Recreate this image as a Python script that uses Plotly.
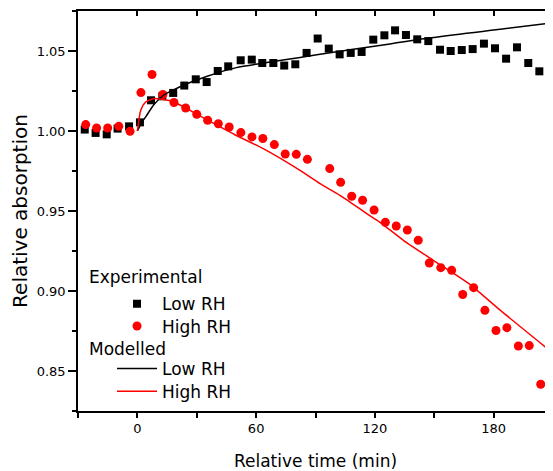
import plotly.graph_objects as go

# Experimental, low RH (black squares)
t_low = [-26.6, -21.1, -15.5, -10.0, -4.2, 1.3, 6.9, 12.6, 18.1, 23.7, 29.5, 35.0, 40.6, 45.9,
         52.2, 57.8, 63.1, 68.7, 74.2, 79.8, 85.5, 91.1, 96.7, 102.2, 107.8, 113.3, 119.2, 124.8,
         130.2, 135.7, 141.4, 147.0, 152.9, 158.3, 163.9, 169.4, 175.1, 180.7, 186.3, 191.8, 197.5, 203.1]
v_low = [1.0009, 0.9988, 0.9979, 1.0015, 1.0029, 1.0054, 1.0192, 1.0217, 1.0238, 1.0284, 1.0323, 1.0306, 1.0375, 1.0404,
         1.0442, 1.0446, 1.0425, 1.0425, 1.0409, 1.0417, 1.0488, 1.0578, 1.0515, 1.0479, 1.0488, 1.0494, 1.0571, 1.0598,
         1.0629, 1.0600, 1.0573, 1.0562, 1.0508, 1.0500, 1.0506, 1.0512, 1.0546, 1.0517, 1.0452, 1.0523, 1.0425, 1.0373]

# Experimental, high RH (red circles)
t_high = [-26.1, -20.6, -15.0, -9.4, -3.7, 1.8, 7.4, 12.9, 18.5, 24.4, 30.0, 35.5, 40.9, 46.4,
          52.3, 57.9, 63.4, 69.2, 74.7, 80.3, 85.9, 97.2, 102.7, 108.3, 113.8, 119.6, 125.3, 130.8,
          136.4, 141.9, 147.5, 153.3, 158.8, 164.4, 169.9, 175.6, 181.2, 186.7, 192.5, 198.0, 203.8, 209.3]
v_high = [1.0040, 1.0019, 1.0019, 1.0029, 0.9998, 1.0240, 1.0353, 1.0228, 1.0178, 1.0144, 1.0104, 1.0067, 1.0045, 1.0025,
          0.9990, 0.9963, 0.9953, 0.9915, 0.9856, 0.9854, 0.9823, 0.9765, 0.9679, 0.9592, 0.9567, 0.9506, 0.9429, 0.9406,
          0.9381, 0.9317, 0.9175, 0.9146, 0.9129, 0.8978, 0.9021, 0.8879, 0.8753, 0.8771, 0.8656, 0.8659, 0.8417, 0.8515]

# Modelled, low RH (black line)
tm_low = [0.0, 2.0, 4.2, 8.4, 13.4, 18.5, 24.4, 35.3, 50.0, 67.0, 82.2, 92.3, 127.6, 141.1, 210.0]
vm_low = [1.0000, 1.0050, 1.0088, 1.0165, 1.0225, 1.0258, 1.0292, 1.0342, 1.0396, 1.0431, 1.0459, 1.0480, 1.0544, 1.0571, 1.0677]

# Modelled, high RH (red line)
tm_high = [0.0, 1.7, 4.2, 8.4, 12.6, 18.5, 33.0, 50.0, 63.6, 82.2, 92.3, 102.4, 115.9, 122.4, 134.4, 149.5, 168.1, 183.3, 210.0]
vm_high = [1.0000, 1.0129, 1.0181, 1.0203, 1.0198, 1.0181, 1.0085, 0.9972, 0.9890, 0.9754, 0.9671, 0.9598, 0.9484, 0.9431,
           0.9317, 0.9192, 0.9040, 0.8880, 0.8611]

x_range = [-30, 210]
y_range = [0.825, 1.075]
x_ticks = [0, 60, 120, 180]
y_ticks = [0.85, 0.90, 0.95, 1.00, 1.05]
y_ticktext = ["0.85", "0.90", "0.95", "1.00", "1.05"]
group_titles = ["Experimental", "Modelled"]

FONT = "DejaVu Sans, Arial, sans-serif"
RED = "#ff0000"

fig = go.Figure()
fig.add_trace(go.Scatter(x=t_low, y=v_low, mode="markers", name="Low RH", legend="legend",
                         marker=dict(symbol="square", size=8, color="black")))
fig.add_trace(go.Scatter(x=t_high, y=v_high, mode="markers", name="High RH", legend="legend2",
                         marker=dict(symbol="circle", size=9, color=RED)))
fig.add_trace(go.Scatter(x=tm_low, y=vm_low, mode="lines", name="Low RH", legend="legend3",
                         line=dict(color="black", width=1.5, shape="spline", smoothing=0.6)))
fig.add_trace(go.Scatter(x=tm_high, y=vm_high, mode="lines", name="High RH", legend="legend4",
                         line=dict(color=RED, width=1.5, shape="spline", smoothing=0.6)))
# carrier trace for mirrored (top/right) axes
fig.add_trace(go.Scatter(x=tm_low, y=vm_low, xaxis="x2", yaxis="y2", mode="lines",
                         line=dict(width=0), opacity=0, showlegend=False, hoverinfo="skip"))

common = dict(showline=True, linecolor="black", linewidth=1.5, showgrid=False, zeroline=False,
              tickcolor="black", tickwidth=1.5)


def leg(y):
    return dict(x=0.0716, y=y, xanchor="left", yanchor="middle", bgcolor="rgba(0,0,0,0)",
                font=dict(size=17), itemwidth=40)


fig.update_layout(
    width=545, height=463,
    margin=dict(l=70, r=0, t=3, b=60, autoexpand=False),
    plot_bgcolor="white", paper_bgcolor="white",
    font=dict(family=FONT, color="black"),
    xaxis=dict(range=x_range, tickvals=x_ticks, ticks="outside", ticklen=5,
               minor=dict(dtick=30, tick0=0, ticks="outside", ticklen=5, tickcolor="black", tickwidth=1.5),
               tickfont=dict(size=13),
               title=dict(text="Relative time (min)", font=dict(size=17), standoff=23), **common),
    yaxis=dict(range=y_range, tickvals=y_ticks, ticktext=y_ticktext, ticks="outside", ticklen=8,
               minor=dict(dtick=0.025, tick0=0.825, ticks="outside", ticklen=4, tickcolor="black", tickwidth=1.5),
               tickfont=dict(size=13),
               title=dict(text="Relative absorption", font=dict(size=20), standoff=6), **common),
    xaxis2=dict(range=x_range, overlaying="x", side="top", anchor="y", dtick=30, tick0=0,
                ticks="inside", ticklen=5, showticklabels=False, **common),
    yaxis2=dict(range=y_range, overlaying="y", side="right", anchor="x", dtick=0.05, tick0=0.85,
                ticks="inside", ticklen=7, showticklabels=False,
                minor=dict(dtick=0.025, tick0=0.825, ticks="inside", ticklen=4, tickcolor="black", tickwidth=1.5),
                **common),
    showlegend=True,
    legend=leg(0.2668),
    legend2=leg(0.2113),
    legend3=leg(0.1050),
    legend4=leg(0.0483),
    annotations=[
        dict(text=group_titles[0], xref="paper", yref="paper", x=0.019, y=0.3358,
             xanchor="left", yanchor="middle", showarrow=False, font=dict(size=17)),
        dict(text=group_titles[1], xref="paper", yref="paper", x=0.019, y=0.1543,
             xanchor="left", yanchor="middle", showarrow=False, font=dict(size=17)),
    ],
)

fig.write_html("out.html")
